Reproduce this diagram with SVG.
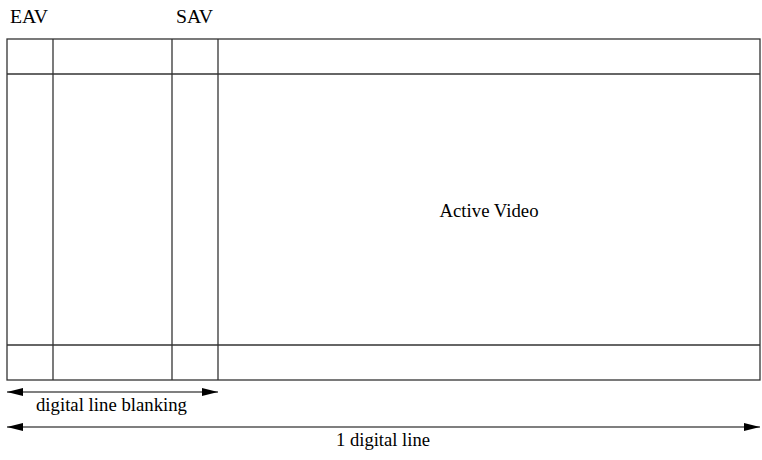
<svg xmlns="http://www.w3.org/2000/svg" width="762" height="460" viewBox="0 0 762 460">
<defs>
<style>
.ln{stroke:#333;stroke-width:1.3;fill:none}
.t{font-family:"Liberation Serif","DejaVu Serif",serif;font-size:19px;fill:#000}
.ar{stroke:#000;stroke-width:1.2}
</style>
<marker id="ah" viewBox="0 0 16 8" refX="16" refY="4" markerWidth="16" markerHeight="8" markerUnits="userSpaceOnUse" orient="auto-start-reverse">
<path d="M0,0 L16,4 L0,8 Z" fill="#000"/>
</marker>
</defs>
<rect width="762" height="460" fill="#fff"/>
<g id="labels">
<text class="t" x="10" y="23" textLength="38" lengthAdjust="spacingAndGlyphs">EAV</text>
<text class="t" x="176" y="23" textLength="37" lengthAdjust="spacingAndGlyphs">SAV</text>
</g>
<g id="frame">
<rect class="ln" x="7" y="39" width="753" height="341"/>
<line class="ln" x1="7" y1="74" x2="760" y2="74"/>
<line class="ln" x1="7" y1="345" x2="760" y2="345"/>
<line class="ln" x1="53" y1="39" x2="53" y2="380"/>
<line class="ln" x1="172" y1="39" x2="172" y2="380"/>
<line class="ln" x1="218" y1="39" x2="218" y2="380"/>
</g>
<g id="active-video">
<text class="t" x="489" y="217" text-anchor="middle" textLength="99" lengthAdjust="spacingAndGlyphs">Active Video</text>
</g>
<g id="connectors">
<line class="ar" x1="7" y1="392" x2="218" y2="392" marker-start="url(#ah)" marker-end="url(#ah)"/>
<line class="ar" x1="7" y1="427" x2="760" y2="427" marker-start="url(#ah)" marker-end="url(#ah)"/>
</g>
<g id="dim-labels">
<text class="t" x="36" y="411" textLength="151" lengthAdjust="spacingAndGlyphs">digital line blanking</text>
<text class="t" x="336" y="446" textLength="94" lengthAdjust="spacingAndGlyphs">1 digital line</text>
</g>
</svg>
